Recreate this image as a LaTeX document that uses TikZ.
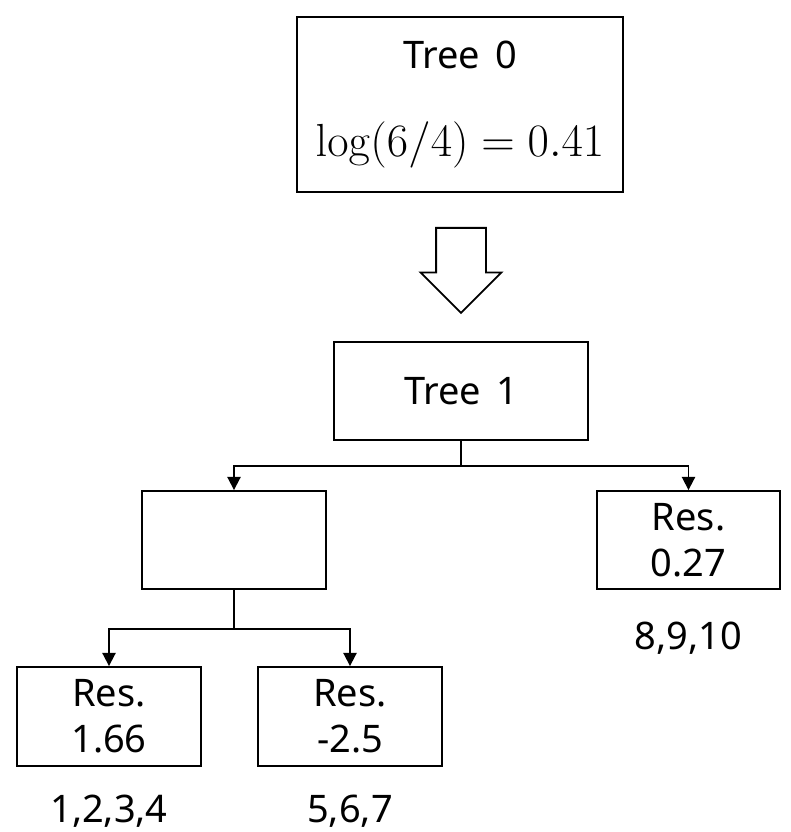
\RequirePackage{fix-cm}
\documentclass[tikz,border=0pt]{standalone}
\usepackage{amsmath}
\usepackage[no-math]{fontspec}
\newfontfamily\boxfont{Noto Sans}
\usepackage{tikz}
\usetikzlibrary{positioning,arrows.meta,shapes.arrows}

\begin{document}
\begin{tikzpicture}[->,>={Triangle[width=0.33cm,length=0.33cm]},x=0.025cm,y=-0.025cm,line width=1.3pt,
		box/.style={draw,rectangle,align=center,inner sep=0pt,font=\boxfont\fontsize{27}{33}\selectfont},
		idx/.style={font=\boxfont\fontsize{27}{33}\selectfont}]
			\useasboundingbox (0,0) rectangle (790,832);
			\node[box,minimum width=8.15cm,minimum height=4.375cm] (tree0) at (460,104.5) {Tree\hspace{0.4em}0\\[30pt]{\fontsize{33}{38}\selectfont$\log(6/4) = 0.41$}};
			\node[single arrow,draw,rotate=-90,anchor=tail,inner xsep=0pt,inner ysep=0.6cm,minimum height=2.125cm,single arrow head extend=0.3875cm] (hollow) at (461,227) {};
			\node[box,minimum width=6.35cm,minimum height=2.45cm] (tree1) at (461,391) {Tree\hspace{0.4em}1};
			\node[box,minimum width=4.6cm,minimum height=2.45cm] (split) at (234,540) {};
			\node[box,minimum width=4.575cm,minimum height=2.45cm] (res3) at (688.5,540) {Res.\\0.27};
			\node[box,minimum width=4.6cm,minimum height=2.475cm] (res1) at (109,716.5) {Res.\\1.66};
			\node[box,minimum width=4.6cm,minimum height=2.475cm] (res2) at (350,716.5) {Res.\\-2.5};
			\node[idx,below=0.56cm of res1] (ids1) {1,2,3,4};
			\node[idx,below=0.56cm of res2] (ids2) {5,6,7};
			\node[idx,below=0.66cm of res3] (ids3) {8,9,10};

			\draw 	(tree1.south) -- ++(0,25) -| (split.north);
			\draw 	(tree1.south) -- ++(0,25) -| (res3.north);
			\draw 	(split.south) -- ++(0,39) -| (res1.north);
			\draw 	(split.south) -- ++(0,39) -| (res2.north);
\end{tikzpicture}
\end{document}
